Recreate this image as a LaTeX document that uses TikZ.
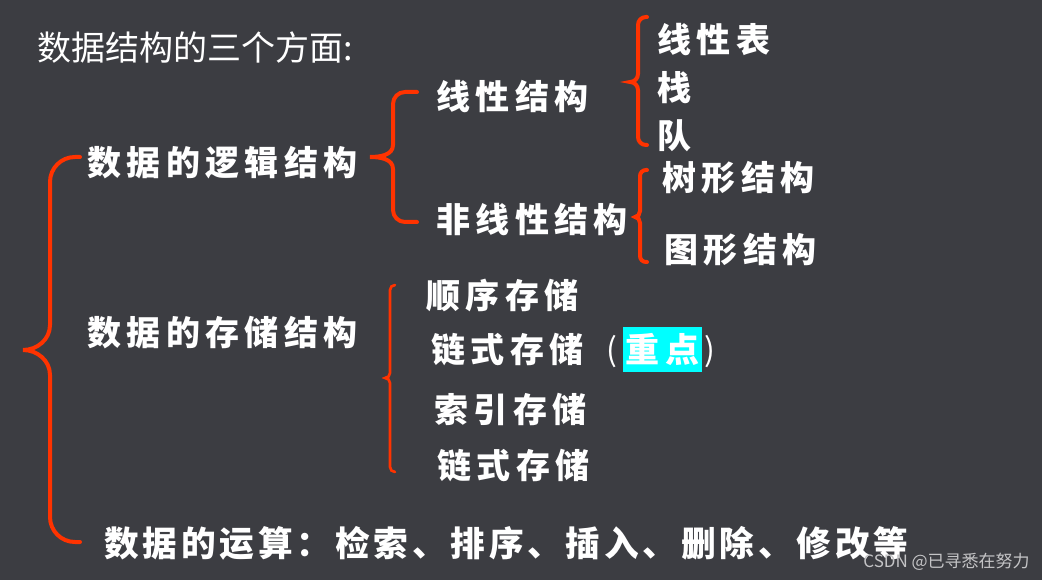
\documentclass[tikz,border=0pt]{standalone}
\usepackage{xcolor}
\usepackage{fontspec}
\usepackage{tikz}
\usetikzlibrary{positioning}

\setmainfont{Noto Sans CJK SC}
\newfontfamily\headfont{Noto Sans CJK SC}
\newfontfamily\itemfont{Noto Sans CJK SC}[LetterSpace=16]
\newfontfamily\opsfont{Noto Sans CJK SC}[LetterSpace=11]

\definecolor{slide}{HTML}{3C3D42}
\definecolor{bracered}{HTML}{FF3300}
\definecolor{keycyan}{HTML}{00FFFF}
\definecolor{markgray}{HTML}{C4C4C6}

% curly brace: tip x, spine x, end x, top y, tip y, bottom y, corner radius
\newcommand{\curly}[7]{%
  \draw (#3,#4) -- (#2+#7,#4) to[out=180,in=90] (#2,#4+#7)
    -- (#2,#5-#7) to[out=-90,in=0] (#1,#5)
    to[out=0,in=90] (#2,#5+#7) -- (#2,#6-#7)
    to[out=-90,in=180] (#2+#7,#6) -- (#3,#6);}

\begin{document}
\begin{tikzpicture}[x=0.75pt, y=-0.75pt,
    brace/.style={draw=bracered, line width=3pt, line cap=round},
    item/.style={anchor=west, text=white, inner sep=0pt,
      font=\itemfont\bfseries\fontsize{25.5pt}{25.5pt}\selectfont}]
    \fill[slide] (0,0) rectangle (1042,580);
    \useasboundingbox (0,0) rectangle (1042,580);

    % title
    \node[anchor=west, text=white, inner sep=0pt,
      font=\headfont\fontsize{25.5pt}{25.5pt}\selectfont] (title) at (37,48) {数据结构的三个方面:};

    % first level
    \node[item] (logic) at (87,163) {数据的逻辑结构};
    \node[item] (storage) at (87,333) {数据的存储结构};
    \node[item, font=\opsfont\bfseries\fontsize{26pt}{26pt}\selectfont] (ops) at (104,543) {数据的运算：检索、排序、插入、删除、修改等};

    % logical structure
    \node[item] (linear) at (436,97) {线性结构};
    \node[item] (nonlinear) at (436,220) {非线性结构};
    \node[item] (list) at (657,40) {线性表};
    \node[item] (stack) at (657,88) {栈};
    \node[item] (queue) at (657,136) {队};
    \node[item] (tree) at (662,178) {树形结构};
    \node[item] (graph) at (664,250) {图形结构};

    % storage structure
    \node[item] (seq) at (426,295) {顺序存储};
    \node[item] (linked) at (431,350) {链式存储};
    \node[anchor=west, text=white, inner sep=0pt,
      font=\fontsize{24pt}{24pt}\selectfont] (lparen) at (606,352) {(};
    \node[fill=keycyan, text=white, inner sep=0pt, minimum width=59.25pt, minimum height=33.75pt,
      font=\itemfont\bfseries\fontsize{25.5pt}{25.5pt}\selectfont] (key) at (662.5,349.5) {重点};
    \node[anchor=west, text=white, inner sep=0pt,
      font=\fontsize{24pt}{24pt}\selectfont] (rparen) at (704,352) {)};
    \node[item] (index) at (434,409) {索引存储};
    \node[item] (linked2) at (437,466) {链式存储};

    % braces
    \begin{scope}[brace]
      \curly{23}{50}{80}{157}{350}{542}{25}
      \curly{370}{393}{417}{92}{157}{222}{12}
      \curly{630}{638}{647}{17}{82}{145}{8}
      \curly{635}{640}{647}{170}{217}{262}{6}
    \end{scope}
    \begin{scope}[brace, line width=2pt]
      \curly{385}{390}{395}{285}{378}{472}{5}
    \end{scope}

    % watermark
    \node[anchor=east, text=markgray, inner sep=0pt,
      font=\fontsize{12.75pt}{12.75pt}\selectfont] (mark) at (1030,562) {CSDN @已寻悉在努力};
\end{tikzpicture}
\end{document}
